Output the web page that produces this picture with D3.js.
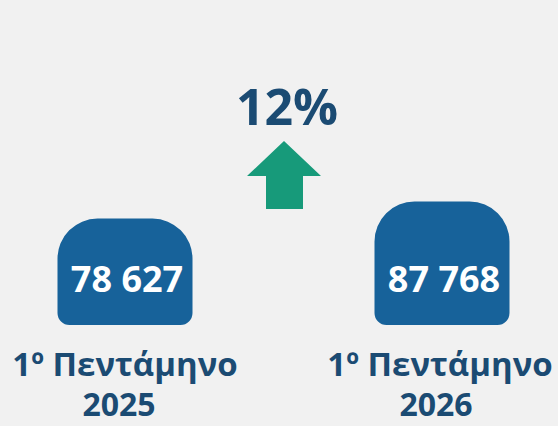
<!DOCTYPE html>
<html><head><meta charset="utf-8">
<script src="https://cdn.jsdelivr.net/npm/d3@7"></script>
<style>html,body{margin:0;padding:0;background:#f1f1f1;}svg{display:block;}</style>
</head><body>
<svg id="c" width="558" height="426"></svg>
<script>
const categories = ["1º Πεντάμηνο 2025", "1º Πεντάμηνο 2026"];
const labelLine1 = ["1º Πεντάμηνο", "1º Πεντάμηνο"];
const labelLine2 = ["2025", "2026"];
const values = [78627, 87768];
const valueLabels = ["78 627", "87 768"];
const changeLabel = "12%";

const W = 558, H = 426;
const svg = d3.select("#c");
const font = "'Open Sans', 'Noto Sans', sans-serif";
const barColor = "#17629a", textColor = "#1b4b73", arrowColor = "#179a7a";

svg.append("rect").attr("width", W).attr("height", H).attr("fill", "#f1f1f1");

const x = d3.scalePoint().domain(categories).range([125, 442]);
const y = d3.scaleLinear().domain([22000, 88000]).range([325, 201]);
const bw = 135, rTop = 40, rBot = 12;

function barPath(cx, top, bottom) {
  const p = d3.path();
  const l = cx - bw / 2, r = cx + bw / 2;
  p.moveTo(l, bottom - rBot);
  p.lineTo(l, top + rTop);
  p.arcTo(l, top, l + rTop, top, rTop);
  p.lineTo(r - rTop, top);
  p.arcTo(r, top, r, top + rTop, rTop);
  p.lineTo(r, bottom - rBot);
  p.arcTo(r, bottom, r - rBot, bottom, rBot);
  p.lineTo(l + rBot, bottom);
  p.arcTo(l, bottom, l, bottom - rBot, rBot);
  p.closePath();
  return p.toString();
}

const g = svg.append("g");
g.selectAll("path.bar").data(values).join("path").attr("class", "bar")
  .attr("d", (d, i) => barPath(x(categories[i]), y(d), y.range()[0]))
  .attr("fill", barColor);

g.selectAll("text.val").data(valueLabels).join("text").attr("class", "val")
  .attr("x", (d, i) => x(categories[i]) + 2)
  .attr("y", 292)
  .attr("text-anchor", "middle")
  .attr("font-family", font).attr("font-weight", 700).attr("font-size", 36)
  .attr("fill", "#ffffff").text(d => d);

g.selectAll("text.l1").data(labelLine1).join("text").attr("class", "l1")
  .attr("x", (d, i) => x(categories[i]) - i * 2)
  .attr("y", 376)
  .attr("text-anchor", "middle")
  .attr("font-family", font).attr("font-weight", 700).attr("font-size", 33)
  .attr("fill", textColor).text(d => d);

g.selectAll("text.l2").data(labelLine2).join("text").attr("class", "l2")
  .attr("x", (d, i) => x(categories[i]) - 6)
  .attr("y", 416)
  .attr("text-anchor", "middle")
  .attr("font-family", font).attr("font-weight", 700).attr("font-size", 32)
  .attr("fill", textColor).text(d => d);

// change arrow
const ax = (x(categories[0]) + x(categories[1])) / 2 + 0.5;
const arrow = d3.path();
arrow.moveTo(ax, 141);
arrow.lineTo(ax + 37, 176);
arrow.lineTo(ax + 19, 176);
arrow.lineTo(ax + 19, 209);
arrow.lineTo(ax - 18, 209);
arrow.lineTo(ax - 18, 176);
arrow.lineTo(ax - 37, 176);
arrow.closePath();
svg.append("path").attr("d", arrow.toString()).attr("fill", arrowColor);

svg.append("text").attr("x", ax + 3).attr("y", 125)
  .attr("text-anchor", "middle")
  .attr("font-family", font).attr("font-weight", 700).attr("font-size", 50)
  .attr("fill", textColor).text(changeLabel);
</script>
</body></html>
